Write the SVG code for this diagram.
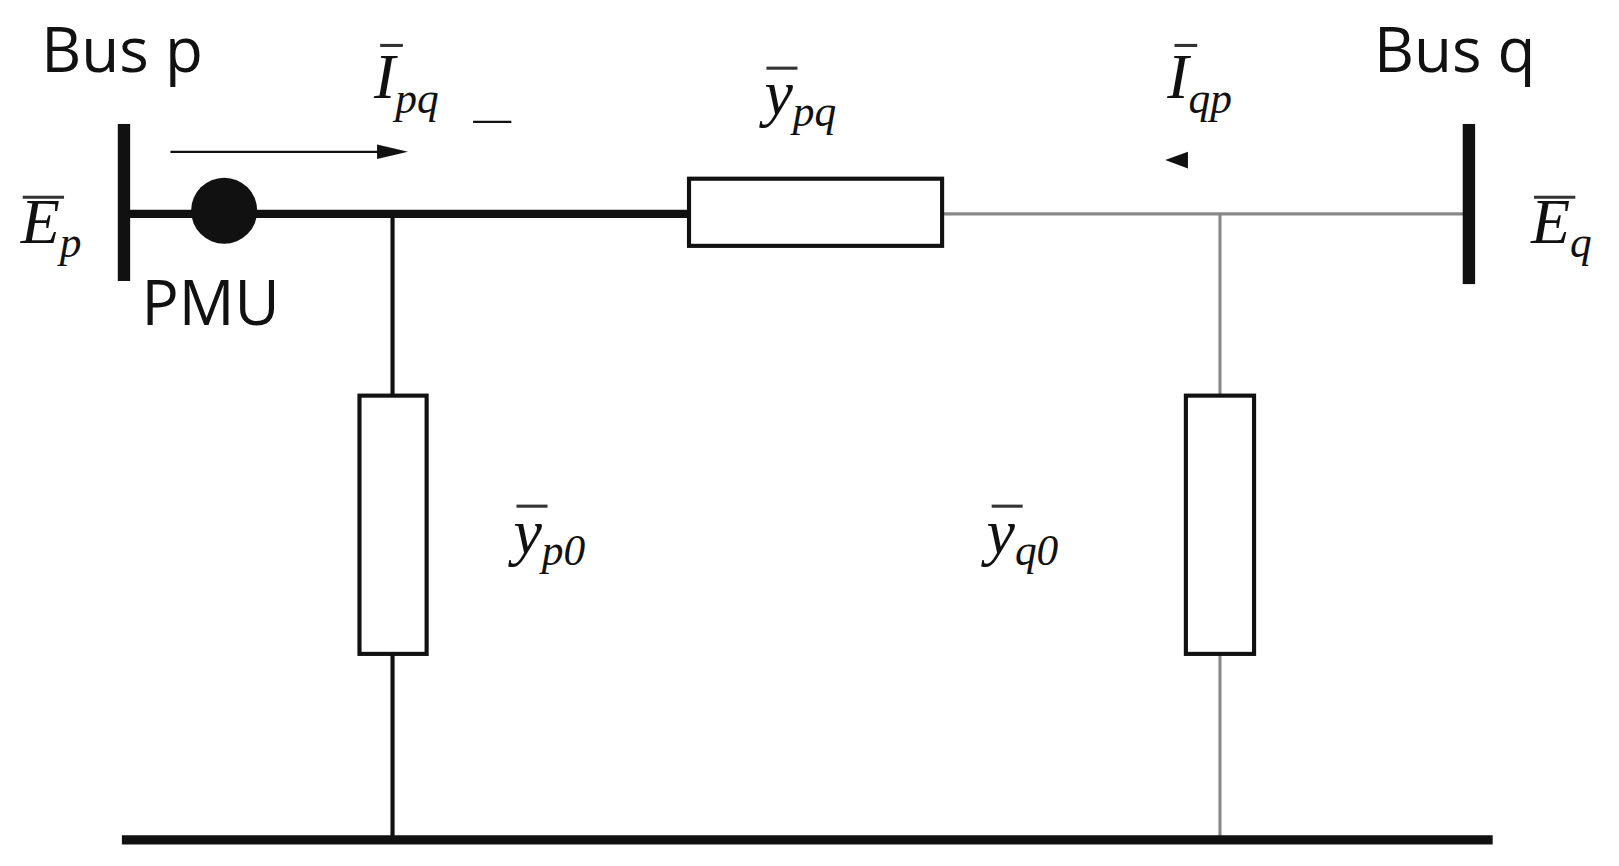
<svg xmlns="http://www.w3.org/2000/svg" width="1619" height="866" viewBox="0 0 1619 866">
<style>
.s{font-family:"Open Sans","Liberation Sans",sans-serif;font-size:60px;fill:#111}
.m{font-family:"Liberation Serif",serif;font-style:italic;font-size:62px;fill:#111}
.sub{font-size:42px}
.ob{stroke:#333;stroke-width:3}
</style>
<rect width="1619" height="866" fill="#fff"/>
<g transform="scale(1.033)">
<g id="connectors" fill="none">
<line x1="120" y1="207" x2="667" y2="207" stroke="#111" stroke-width="8"/>
<line x1="912" y1="207" x2="1420" y2="207" stroke="#888" stroke-width="3"/>
<line x1="380" y1="207" x2="380" y2="383" stroke="#111" stroke-width="4"/>
<line x1="380" y1="633" x2="380" y2="812" stroke="#111" stroke-width="4"/>
<line x1="1181" y1="207" x2="1181" y2="383" stroke="#888" stroke-width="3"/>
<line x1="1181" y1="633" x2="1181" y2="812" stroke="#888" stroke-width="3"/>
<line x1="118" y1="813" x2="1445" y2="813" stroke="#111" stroke-width="9"/>
<line x1="165" y1="147" x2="375" y2="147" stroke="#111" stroke-width="2"/>
<polygon points="395,147 365,140 365,154" fill="#111"/>
<polygon points="1128,155 1150,147 1150,163" fill="#111"/>
<line x1="458" y1="118" x2="495" y2="118" stroke="#111" stroke-width="2"/>
</g>
<g id="busp"><rect x="114" y="120" width="12" height="152" fill="#111"/><text class="s" x="40" y="70">Bus p</text>
<line class="ob" x1="22" y1="191" x2="62" y2="191"/><text class="m" x="20" y="235">E<tspan class="sub" dy="14">p</tspan></text></g>
<g id="pmu"><circle cx="217" cy="204" r="32" fill="#111"/><text class="s" x="137" y="315">PMU</text></g>
<g id="busq"><rect x="1416" y="120" width="12" height="155" fill="#111"/><text class="s" x="1330" y="70">Bus q</text>
<line class="ob" x1="1485" y1="191" x2="1525" y2="191"/><text class="m" x="1482" y="235">E<tspan class="sub" dy="14">q</tspan></text></g>
<g id="ypq"><rect x="667" y="173" width="245" height="65" fill="#fff" stroke="#111" stroke-width="4"/>
<line class="ob" x1="742" y1="66" x2="772" y2="66"/><text class="m" x="740" y="110">y<tspan class="sub" dy="12">pq</tspan></text></g>
<g id="ipq"><line class="ob" x1="368" y1="44" x2="390" y2="44"/><text class="m" x="362" y="95">I<tspan class="sub" dy="14">pq</tspan></text></g>
<g id="iqp"><line class="ob" x1="1137" y1="44" x2="1159" y2="44"/><text class="m" x="1130" y="95">I<tspan class="sub" dy="14">qp</tspan></text></g>
<g id="yp0"><rect x="348" y="383" width="65" height="250" fill="#fff" stroke="#111" stroke-width="4"/>
<line class="ob" x1="500" y1="490" x2="530" y2="490"/><text class="m" x="497" y="535">y<tspan class="sub" dy="12">p0</tspan></text></g>
<g id="yq0"><rect x="1148" y="383" width="66" height="250" fill="#fff" stroke="#111" stroke-width="4"/>
<line class="ob" x1="960" y1="490" x2="990" y2="490"/><text class="m" x="955" y="535">y<tspan class="sub" dy="12">q0</tspan></text></g>
</g>
</svg>
